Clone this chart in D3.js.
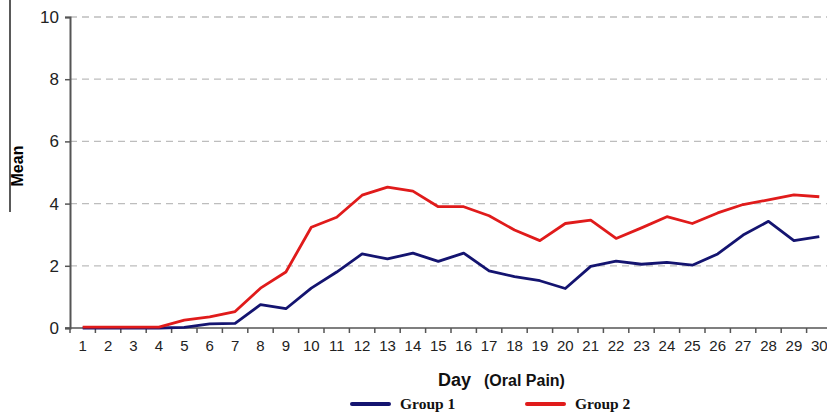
<!DOCTYPE html>
<html>
<head>
<meta charset="utf-8">
<title>Oral Pain Mean by Day</title>
<script src="https://d3js.org/d3.v7.min.js"></script>
<style>
  body { margin: 0; background: #fff; }
  svg { display: block; }
  .tick text { font-family: "Liberation Sans", Arial, sans-serif; fill: #222; }
</style>
</head>
<body>
<script>
// data
var days = d3.range(1, 31);
var group1 = [0, 0, 0, 0, 0.02, 0.13, 0.15, 0.75, 0.62, 1.28, 1.8, 2.38, 2.22, 2.41, 2.14,
              2.41, 1.84, 1.65, 1.52, 1.27, 1.98, 2.15, 2.05, 2.11, 2.02, 2.38, 2.99, 3.43, 2.81, 2.94];
var group2 = [0.03, 0.03, 0.03, 0.03, 0.25, 0.36, 0.53, 1.28, 1.8, 3.24, 3.56, 4.27, 4.53, 4.4, 3.9,
              3.9, 3.61, 3.15, 2.81, 3.36, 3.47, 2.88, 3.22, 3.58, 3.36, 3.7, 3.97, 4.12, 4.28, 4.22];
var yTicks = [0, 2, 4, 6, 8, 10];
var seriesNames = ["Group 1", "Group 2"];
var seriesColors = ["#141470", "#e01b1b"];

var width = 827, height = 415;
var plotLeft = 70, plotTop = 17, plotBottom = 328, plotRight = 832;

var svg = d3.select("body").append("svg")
  .attr("width", width)
  .attr("height", height);

var x = d3.scaleBand().domain(days).range([plotLeft, plotRight]);
var y = d3.scaleLinear().domain([0, 10]).range([plotBottom, plotTop]);

// dashed gridlines
svg.append("g")
  .selectAll("line")
  .data(yTicks.filter(function(d) { return d > 0; }))
  .enter().append("line")
  .attr("x1", plotLeft).attr("x2", width)
  .attr("y1", function(d) { return y(d); })
  .attr("y2", function(d) { return y(d); })
  .attr("stroke", "#bdbdbd")
  .attr("stroke-width", 1.3)
  .attr("stroke-dasharray", "7,5");

// y axis
var yAxis = svg.append("g")
  .attr("transform", "translate(" + plotLeft + ",0)")
  .call(d3.axisLeft(y).tickValues(yTicks).tickSize(5).tickPadding(6));
yAxis.select(".domain").attr("stroke", "#555").attr("stroke-width", 2);
yAxis.selectAll(".tick line").attr("stroke", "#555").attr("stroke-width", 1.5);
yAxis.selectAll(".tick text").style("font-size", "17px");

// x axis with ticks at band edges
var xAxis = svg.append("g")
  .attr("transform", "translate(0," + plotBottom + ")")
  .call(d3.axisBottom(x).tickSize(0).tickPadding(12));
xAxis.select(".domain").attr("stroke", "#555").attr("stroke-width", 1.5)
  .attr("d", "M" + (plotLeft - 5) + ",0H" + plotRight);
xAxis.selectAll(".tick text").style("font-size", "15px");
xAxis.append("g")
  .selectAll("line")
  .data(days)
  .enter().append("line")
  .attr("x1", function(d) { return x(d); })
  .attr("x2", function(d) { return x(d); })
  .attr("y1", 0).attr("y2", 5)
  .attr("stroke", "#555").attr("stroke-width", 1.5);

// lines
var line = d3.line()
  .x(function(d, i) { return x(days[i]) + x.bandwidth() / 2; })
  .y(function(d) { return y(d); });

[group1, group2].forEach(function(s, i) {
  svg.append("path")
    .datum(s)
    .attr("d", line)
    .attr("fill", "none")
    .attr("stroke", seriesColors[i])
    .attr("stroke-width", 2.8)
    .attr("stroke-linejoin", "round");
});

// y title and side rule
svg.append("line")
  .attr("x1", 10).attr("x2", 10).attr("y1", 0).attr("y2", 212)
  .attr("stroke", "#000").attr("stroke-width", 1.3);
svg.append("text")
  .attr("transform", "translate(23,166) rotate(-90)")
  .attr("text-anchor", "middle")
  .style("font-family", "Liberation Sans, Arial, sans-serif")
  .style("font-weight", "bold")
  .style("font-size", "16px")
  .text("Mean");

// x title
var xt = svg.append("text")
  .attr("x", 438).attr("y", 386)
  .style("font-family", "Liberation Sans, Arial, sans-serif")
  .style("font-weight", "bold")
  .style("fill", "#111");
xt.append("tspan").style("font-size", "18px").text("Day");
xt.append("tspan").attr("dx", 13).style("font-size", "16px").text("(Oral Pain)");

// legend
var legX = [352, 527];
seriesNames.forEach(function(name, i) {
  var g = svg.append("g").attr("transform", "translate(" + legX[i] + ",404)");
  g.append("line")
    .attr("x1", 0).attr("x2", 37).attr("y1", 0).attr("y2", 0)
    .attr("stroke", seriesColors[i]).attr("stroke-width", 4).attr("stroke-linecap", "round");
  g.append("text")
    .attr("x", 48).attr("y", 5)
    .style("font-family", "Liberation Serif, Times New Roman, serif")
    .style("font-weight", "bold")
    .style("font-size", "15.5px")
    .style("fill", "#111")
    .text(name);
});
</script>
</body>
</html>
